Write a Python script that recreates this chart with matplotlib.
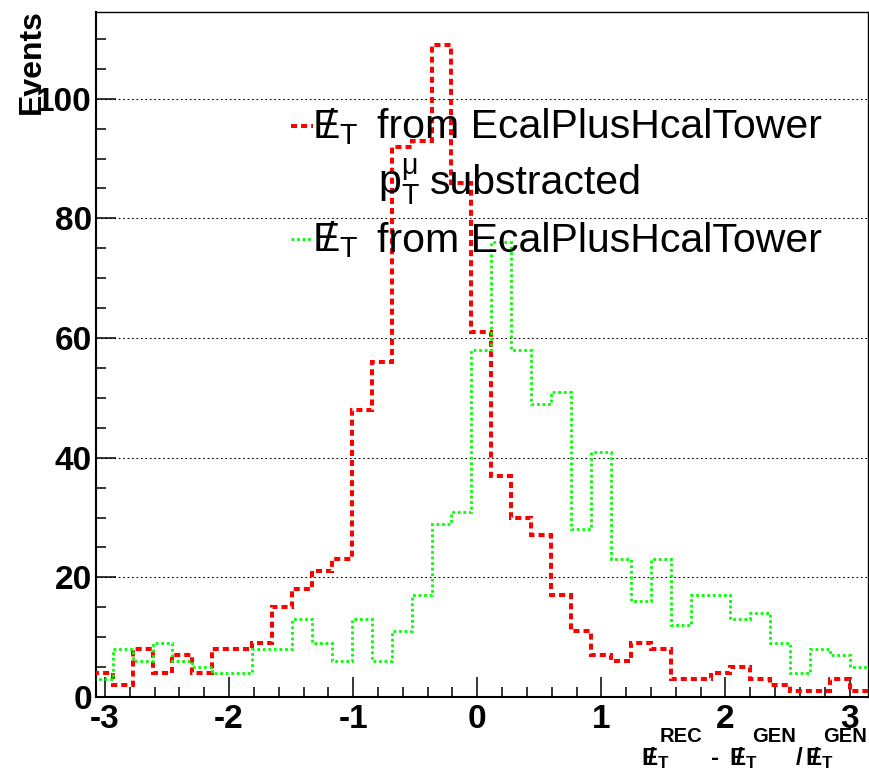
import matplotlib
matplotlib.use("Agg")
import matplotlib.pyplot as plt
import numpy as np
from matplotlib.ticker import MultipleLocator
from matplotlib.lines import Line2D

plt.rcParams['font.family'] = 'Liberation Sans'
plt.rcParams['axes.unicode_minus'] = False
plt.rcParams['mathtext.fontset'] = 'custom'
plt.rcParams['mathtext.rm'] = 'Liberation Sans'
plt.rcParams['mathtext.it'] = 'Liberation Sans:italic'
plt.rcParams['mathtext.bf'] = 'Liberation Sans:bold'

# histogram binning (39 bins)
bin_lo = -3.099
bin_w = 0.1606
edges = bin_lo + bin_w * np.arange(40)

# MET from towers, muon pT subtracted (red, dashed)
red_counts = [4, 2, 8, 4, 7, 4, 8, 8, 9, 15,
              18, 21, 23, 48, 56, 92, 93, 109, 86, 61,
              37, 30, 27, 17, 11, 7, 6, 9, 8, 3,
              3, 4, 5, 3, 2, 1, 1, 3, 1]
# MET from towers (green, dotted)
green_counts = [3, 8, 6, 9, 6, 5, 4, 4, 8, 8,
                13, 9, 6, 13, 6, 11, 17, 29, 31, 58,
                76, 58, 49, 51, 28, 41, 23, 16, 23, 12,
                17, 17, 13, 14, 9, 4, 8, 7, 5]

xticks = [-3, -2, -1, 0, 1, 2, 3]
yticks = [0, 20, 40, 60, 80, 100]

W, H = 869, 773
RED = 'red'
GREEN = '#00ff00'


def fx(px):
    return px / W


def fy(py):
    return 1 - py / H


def slash(f):
    return r'{\%s{E}\!\!\!\%s{/}\,}' % (f, f)


fig = plt.figure(figsize=(W / 100, H / 100), dpi=100)
ax = fig.add_axes([fx(96), fy(697), fx(868) - fx(96), fy(12.3) - fy(697)])

ax.stairs(red_counts, edges, baseline=None, color=RED, lw=2.9,
          linestyle=(0, (1.5, 1.0)), zorder=3)
ax.stairs(green_counts, edges, baseline=None, color=GREEN, lw=2.0,
          linestyle=(0, (1.0, 1.0)), zorder=4)

ax.set_xlim(-3.0725, 3.1483)
ax.set_ylim(0, 114.45)
ax.set_xticks(xticks)
ax.set_yticks(yticks)
ax.xaxis.set_minor_locator(MultipleLocator(0.2))
ax.yaxis.set_minor_locator(MultipleLocator(5))
ax.tick_params(which='both', direction='in', width=1.1, top=False, right=False)
ax.tick_params(which='major', length=14.4)
ax.tick_params(which='minor', length=7.2)
ax.tick_params(axis='x', pad=5)
ax.tick_params(axis='y', pad=3)
for lab in ax.get_xticklabels() + ax.get_yticklabels():
    lab.set_fontsize(24)
    lab.set_fontweight('bold')

ax.yaxis.grid(True, color='black', lw=0.8, linestyle=(0, (1.5, 2.5)))
ax.set_axisbelow(True)
for s in ax.spines.values():
    s.set_linewidth(1.5)
ax.spines['top'].set_linewidth(1.0)
ax.spines['right'].set_linewidth(1.0)

# axis titles
fig.text(fx(32), fy(9), 'Events', rotation=90, ha='center', va='top',
         fontsize=23, fontweight='bold')

# x title pieces: slashed E_T with raised superscripts, ROOT style
met_bf = r'$' + slash('mathbf') + r'_{\mathbf{T}}$'
base = 765
for x0 in [641, 729, 805]:
    fig.text(fx(x0), fy(base), met_bf, ha='left', va='baseline', fontsize=17.5)
for x0, sup in [(660, 'REC'), (752, 'GEN'), (823, 'GEN')]:
    fig.text(fx(x0), fy(742), sup, ha='left', va='baseline', fontsize=14.5,
             fontweight='bold')
fig.text(fx(711), fy(base), '-', ha='left', va='baseline', fontsize=17.5,
         fontweight='bold')
fig.text(fx(796), fy(base), '/', ha='left', va='baseline', fontsize=17.5,
         fontweight='bold')

# legend drawn by hand, as in the ROOT canvas
met = r'$' + slash('mathrm') + r'_{\mathrm{T}}$'
fs = 29.5
fig.text(fx(312), fy(138.5), met, ha='left', va='baseline', fontsize=fs)
fig.text(fx(377), fy(138.5), 'from EcalPlusHcalTower', ha='left',
         va='baseline', fontsize=fs)
fig.text(fx(378), fy(193.5), r'$\mathrm{p}_{\mathrm{T}}^{\mathrm{\mu}}$',
         ha='left', va='baseline', fontsize=fs)
fig.text(fx(430), fy(193.5), 'substracted', ha='left', va='baseline',
         fontsize=fs)
fig.text(fx(312), fy(251.5), met, ha='left', va='baseline', fontsize=fs)
fig.text(fx(377), fy(251.5), 'from EcalPlusHcalTower', ha='left',
         va='baseline', fontsize=fs)
fig.add_artist(Line2D([fx(291), fx(313)], [fy(126), fy(126)], color=RED,
                      lw=2.9, linestyle=(0, (1.5, 1.0))))
fig.add_artist(Line2D([fx(291), fx(311)], [fy(239), fy(239)], color=GREEN,
                      lw=2.0, linestyle=(0, (1.0, 1.0))))

fig.savefig('out.png', dpi=100)
